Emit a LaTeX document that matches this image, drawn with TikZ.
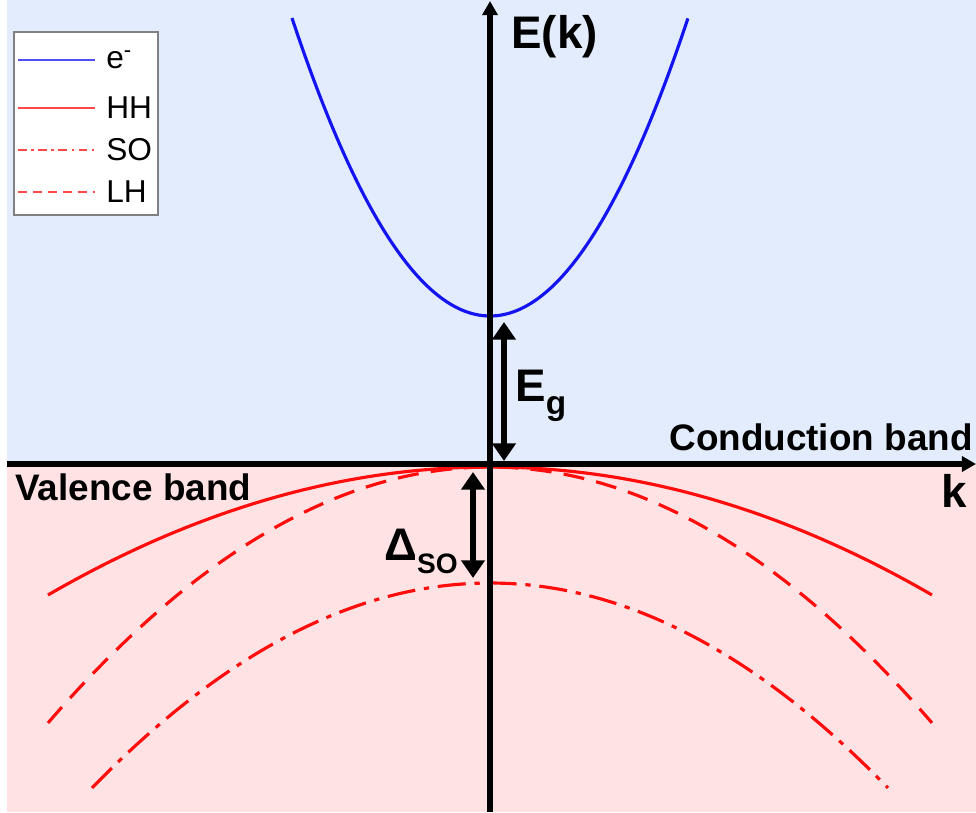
\documentclass[tikz,border=0pt]{standalone}
\usepackage{fontspec}
\setmainfont{Liberation Sans}
\usetikzlibrary{arrows.meta, positioning}
\definecolor{cbblue}{HTML}{E3ECFC}
\definecolor{vbpink}{HTML}{FFE3E4}
\definecolor{elblue}{HTML}{1414F0}
\definecolor{hred}{HTML}{FF0D0D}
\definecolor{lgray}{HTML}{808080}

\begin{document}
\begin{tikzpicture}[
  x=0.02cm, y=-0.02cm,
  axis/.style={line width=3.2pt, -{Triangle[length=8pt, width=8.5pt]}},
  gap/.style={line width=3.8pt,
    {Triangle[length=10pt, width=13pt]}-{Triangle[length=10pt, width=13pt]}},
  band/.style={line width=1.8pt},
  legline/.style={line width=0.9pt},
  lbl/.style={font=\bfseries\fontsize{21}{24}\selectfont, inner sep=0pt, anchor=base west},
  big/.style={font=\bfseries\fontsize{26}{30}\selectfont, inner sep=0pt, anchor=base west},
  leg/.style={font=\fontsize{18}{20}\selectfont, inner sep=0pt, anchor=west},
]

% Frame
\useasboundingbox (0,0) rectangle (976,812);
\fill[cbblue] (7,0) rectangle (976,464);
\fill[vbpink] (7,464) rectangle (976,812);

% Bands (k in units of 100 px)
\draw[elblue, line width=1.8pt] plot[domain=-1.98:1.98, samples=90, smooth]
  (490+100*\x, 316-76*\x*\x);
\draw[hred, band] plot[domain=-4.42:4.42, samples=90, smooth]
  (490+100*\x, 467+6.55*\x*\x);
\draw[hred, band, dash pattern=on 12pt off 7pt] plot[domain=-4.42:4.42, samples=90, smooth]
  (490+100*\x, 467+13.1*\x*\x);
\draw[hred, band, dash pattern=on 16pt off 5pt on 3pt off 5pt]
  plot[domain=-3.98:3.98, samples=90, smooth]
  (490+100*\x, 583+12.94*\x*\x);

% Axes
\coordinate (kleft) at (7,464);
\coordinate (kright) at (976,464);
\coordinate (ebot) at (490,812);
\coordinate (etop) at (490,1);
\draw[axis] (kleft) -- (kright);
\draw[axis] (ebot) -- (etop);

% Gaps
\coordinate (egtop) at (504,322);
\coordinate (egbot) at (504,461);
\coordinate (sotop) at (473,472);
\coordinate (sobot) at (473,578);
\draw[gap] (egtop) -- (egbot);
\draw[gap] (sotop) -- (sobot);

% Labels
\node[big] (ek) at (511,48) {E(k)};
\node[big] (kl) at (941,507) {k};
\node[lbl] (cb) at (669,450) {Conduction band};
\node[lbl] (vb) at (15,500) {Valence band};
\node[big] (eg) at (515,401) {E\raisebox{-0.3em}{\fontsize{19}{20}\selectfont g}};
\node[big] (dso) at (384,560) {Δ\raisebox{-0.3em}{\fontsize{16}{20}\selectfont SO}};

% Legend
\draw[lgray, line width=1pt, fill=white] (14,32) rectangle (158,215);
\draw[elblue!75, legline] (18,60) -- (95,60);
\node[leg] (lege) at (106,60) {e\textsuperscript{-}};
\draw[hred!75, legline] (18,108) -- (95,108);
\node[leg] (leghh) at (106,108) {HH};
\draw[hred!75, legline, dash pattern=on 5pt off 2.5pt on 1.5pt off 2.5pt] (18,150) -- (95,150);
\node[leg] (legso) at (106,150) {SO};
\draw[hred!75, legline, dash pattern=on 5pt off 3.5pt] (18,192) -- (95,192);
\node[leg] (leglh) at (106,192) {LH};

\end{tikzpicture}
\end{document}
